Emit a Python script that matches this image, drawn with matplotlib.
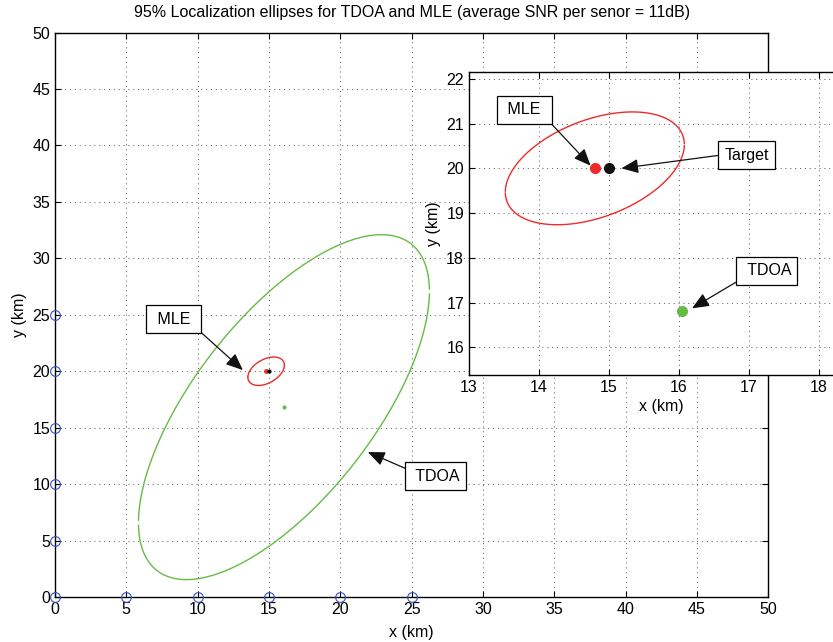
import numpy as np
import matplotlib.pyplot as plt

plt.rcParams['font.family'] = ['Liberation Sans', 'DejaVu Sans']
plt.rcParams['font.size'] = 11.5

# positions (km)
sensor_x = [0, 5, 10, 15, 20, 25, 0, 0, 0, 0, 0]
sensor_y = [0, 0, 0, 0, 0, 0, 5, 10, 15, 20, 25]
target = (15.0, 20.0)
mle_est = (14.8, 20.0)
tdoa_est = (16.05, 16.82)

# 95% ellipse shape matrices (km^2)
mle_shape = np.array([[1.64, 0.68], [0.68, 1.59]])
tdoa_shape = np.array([[104.0, 104.5], [104.5, 233.5]])

red = '#ee2a2a'
green = '#66bb44'
blue = '#3352c4'


def ellipse_halves(center, shape, gap=0.02):
    # two branches, with a small break at the left/right extremes like the original
    L = np.linalg.cholesky(shape)
    out = []
    for t0, t1 in [(gap, np.pi - gap), (np.pi + gap, 2 * np.pi - gap)]:
        t = np.linspace(t0, t1, 200)
        pts = L @ np.vstack([np.cos(t), np.sin(t)])
        out.append((center[0] + pts[0], center[1] + pts[1]))
    return out


def style_axes(ax):
    ax.tick_params(direction='in', top=True, right=True, length=4, width=0.8)
    ax.grid(True, linestyle=(0, (1, 4)), color='#555555', linewidth=0.7)
    for s in ax.spines.values():
        s.set_linewidth(1.0)


box = dict(boxstyle='square,pad=0.4', fc='white', ec='black', lw=0.9)


def arrow(relpos):
    return dict(arrowstyle='-|>,head_length=0.9,head_width=0.38', color='#111111',
                lw=0.9, relpos=relpos, shrinkA=0, shrinkB=0)


fig = plt.figure(figsize=(8.33, 6.42), dpi=100)

# main axes
ax = fig.add_axes([0.066, 0.0701, 0.8563, 0.8791])
for xs, ys in ellipse_halves(tdoa_est, tdoa_shape):
    ax.plot(xs, ys, color=green, lw=1.0)
for xs, ys in ellipse_halves(mle_est, mle_shape):
    ax.plot(xs, ys, color=red, lw=1.0)
ax.plot(*tdoa_est, 'o', color=green, ms=2)
ax.plot(*mle_est, 'o', color=red, ms=2.5)
ax.plot(*target, 'o', color='black', ms=2)
ax.plot(sensor_x, sensor_y, 'o', mfc='none', mec=blue, ms=7, mew=0.8,
        clip_on=False, zorder=5)
ax.annotate(' MLE ', xy=(13.17, 20.1), xytext=(8.32, 24.62), ha='center', va='center',
            bbox=box, arrowprops=arrow((1, 0)))
ax.annotate(' TDOA', xy=(21.93, 12.84), xytext=(26.69, 10.69), ha='center', va='center',
            bbox=box, arrowprops=arrow((0, 0.85)))
ax.set_xlim(0, 50)
ax.set_ylim(0, 50)
ax.set_xticks(np.arange(0, 51, 5))
ax.set_yticks(np.arange(0, 51, 5))
ax.set_xlabel('x (km)', labelpad=6)
ax.set_ylabel('y (km)', labelpad=4)
ax.set_title('95% Localization ellipses for TDOA and MLE (average SNR per senor = 11dB)',
             fontsize=11.5, pad=11)
style_axes(ax)

# zoomed inset
axi = fig.add_axes([0.563, 0.4159, 0.4616, 0.4724])
for xs, ys in ellipse_halves(mle_est, mle_shape):
    axi.plot(xs, ys, color=red, lw=1.0)
axi.plot(*mle_est, 'o', color=red, ms=7)
axi.plot(*target, 'o', color='#111111', ms=7)
axi.plot(*tdoa_est, 'o', color=green, ms=7)
axi.annotate(' MLE ', xy=(14.74, 20.06), xytext=(13.79, 21.31), ha='center', va='center',
             bbox=box, arrowprops=arrow((1, 0)))
axi.annotate('Target', xy=(15.18, 20.0), xytext=(16.97, 20.29), ha='center', va='center',
             bbox=box, arrowprops=arrow((0, 0.55)))
axi.annotate(' TDOA', xy=(16.19, 16.87), xytext=(17.26, 17.71), ha='center', va='center',
             bbox=box, arrowprops=arrow((0, 0)))
axi.set_xlim(13, 18.5)
axi.set_ylim(15.38, 22.16)
axi.set_xticks(np.arange(13, 19, 1))
axi.set_yticks(np.arange(16, 23, 1))
axi.set_xlabel('x (km)', labelpad=3)
axi.set_ylabel('y (km)', labelpad=4)
style_axes(axi)

fig.savefig('out.png', dpi=100)
